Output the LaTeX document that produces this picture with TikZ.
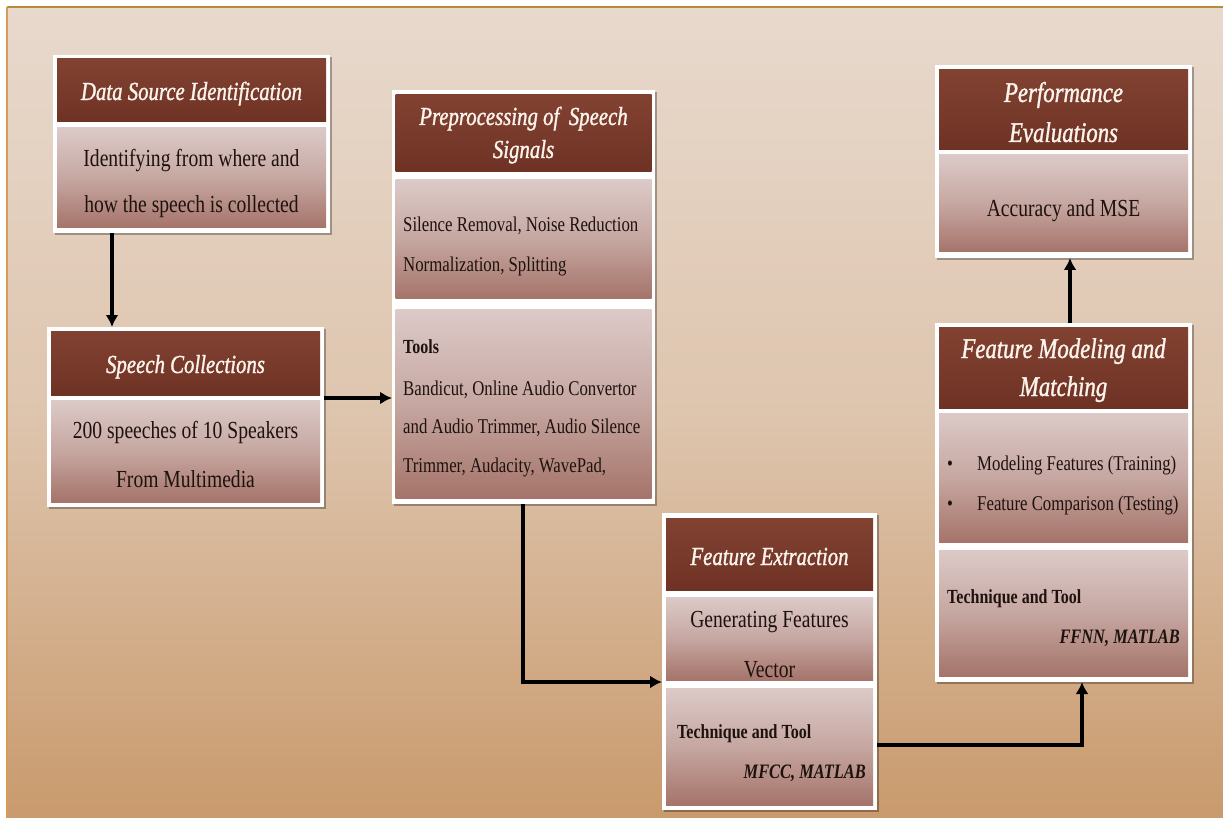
\documentclass[tikz,border=0pt]{standalone}
\usepackage{fontspec}
\setmainfont{Liberation Serif}[FakeStretch=0.8]
\newfontfamily\ttlfont{Liberation Serif}[FakeStretch=0.8, FakeBold=1.2]
\usetikzlibrary{shadows,arrows.meta}
\definecolor{bgtop}{HTML}{E8D9CD}
\definecolor{bgmid}{HTML}{DEC5AE}
\definecolor{bgbot}{HTML}{C99A6D}
\definecolor{edgegold}{HTML}{B98A3A}
\definecolor{edgeorange}{HTML}{D69C5A}
\definecolor{tbrownA}{HTML}{824232}
\definecolor{tbrownB}{HTML}{6E3224}
\definecolor{bodyT}{HTML}{DCCAC8}
\definecolor{bodyM}{HTML}{C6A7A1}
\definecolor{bodyB}{HTML}{A5746A}
\definecolor{bodytext}{HTML}{1E120E}
\definecolor{titletext}{HTML}{FBF4EC}
\tikzset{
  frm/.style={fill=white, draw=none, inner sep=0pt, outer sep=0pt, anchor=north west,
    drop shadow={shadow xshift=1.5pt, shadow yshift=-2pt, opacity=0.3, fill=black}},
  ttl/.style={top color=tbrownA, bottom color=tbrownB, draw=none, inner sep=0pt, outer sep=0pt, anchor=north west},
  bdy/.style={top color=bodyT, bottom color=bodyB, middle color=bodyM, draw=none, inner sep=0pt, outer sep=0pt, anchor=north west},
  ttxt/.style={text=titletext, font=\ttlfont\itshape\fontsize{26}{30}\selectfont, anchor=base, inner sep=0pt},
  bttxt/.style={text=titletext, font=\ttlfont\itshape\fontsize{28.5}{32}\selectfont, anchor=base, inner sep=0pt},
  btxt/.style={text=bodytext, font=\fontsize{24.5}{29}\selectfont, anchor=base, inner sep=0pt},
  stxt/.style={text=bodytext, font=\fontsize{21}{25}\selectfont, anchor=base west, inner sep=0pt},
  boldtxt/.style={text=bodytext, font=\bfseries\fontsize{20}{24}\selectfont, anchor=base west, inner sep=0pt},
  itxt/.style={text=bodytext, font=\bfseries\itshape\fontsize{20.5}{24}\selectfont, anchor=base east, inner sep=0pt},
  arr/.style={draw=black, line width=4.3pt, -{Latex[length=12pt,width=13pt]}}
}
\begin{document}
\begin{tikzpicture}[x=1pt,y=-1pt]
\useasboundingbox (0,0) rectangle (1223,818);
\fill[white] (0,0) rectangle (1223,818);
\fill[top color=bgtop, bottom color=bgbot, middle color=bgmid] (7,7) rectangle (1223,818);
\draw[edgegold, line width=1.5pt] (7,7) -- (1223,7);
\draw[edgeorange, line width=1.5pt] (7,7) -- (7,818);

% Box 1: Data Source Identification
\node[frm, minimum width=277pt, minimum height=178pt] (f1) at (53,55) {};
\node[ttl, minimum width=269pt, minimum height=63pt] (t1) at (57,59) {};
\node[bdy, minimum width=269pt, minimum height=100pt] (d1) at (57,128) {};
\node[ttxt] (t1a) at (191.5,100) {Data Source Identification};
\node[btxt] (d1a) at (191.5,167) {Identifying from where and};
\node[btxt] (d1b) at (191.5,213) {how the speech is collected};

% Box 2: Speech Collections
\node[frm, minimum width=277pt, minimum height=180pt] (f2) at (47,327) {};
\node[ttl, minimum width=269pt, minimum height=64pt] (t2) at (51,331) {};
\node[bdy, minimum width=269pt, minimum height=102pt] (d2) at (51,400) {};
\node[ttxt] (t2a) at (185.5,373) {Speech Collections};
\node[btxt] (d2a) at (185.5,438) {200 speeches of 10 Speakers};
\node[btxt] (d2b) at (185.5,487) {From Multimedia};

% Box 3: Preprocessing
\node[frm, minimum width=263pt, minimum height=414pt] (f3) at (392,90) {};
\node[ttl, minimum width=256pt, minimum height=77pt] (t3) at (395.5,95) {};
\node[bdy, minimum width=256pt, minimum height=118pt] (d3) at (395.5,180) {};
\node[bdy, minimum width=256pt, minimum height=189pt] (e3) at (395.5,309) {};
\node[ttxt] (t3a) at (523.5,125) {Preprocessing of\, Speech};
\node[ttxt] (t3b) at (523.5,158) {Signals};
\node[stxt] (d3a) at (403,232) {Silence Removal, Noise Reduction};
\node[stxt] (d3b) at (403,272) {Normalization, Splitting};
\node[boldtxt] (e3a) at (403,353) {Tools};
\node[stxt] (e3b) at (403,395) {Bandicut, Online Audio Convertor};
\node[stxt] (e3c) at (403,433) {and Audio Trimmer, Audio Silence};
\node[stxt] (e3d) at (403,472) {Trimmer, Audacity, WavePad,};

% Box 4: Feature Extraction
\node[frm, minimum width=215pt, minimum height=297pt] (f4) at (662,513) {};
\node[ttl, minimum width=207pt, minimum height=72pt] (t4) at (666,518) {};
\node[bdy, minimum width=207pt, minimum height=83pt] (d4) at (666,597) {};
\node[bdy, minimum width=207pt, minimum height=117pt] (e4) at (666,688) {};
\node[ttxt] (t4a) at (769.5,565) {Feature Extraction};
\node[btxt] (d4a) at (769.5,627) {Generating Features};
\node[btxt] (d4b) at (769.5,677) {Vector};
\node[boldtxt] (e4a) at (677,738) {Technique and Tool};
\node[itxt] (e4b) at (866,778) {MFCC, MATLAB};

% Box 5: Feature Modeling and Matching
\node[frm, minimum width=257pt, minimum height=359pt] (f5) at (935,323) {};
\node[ttl, minimum width=249pt, minimum height=81pt] (t5) at (939,327) {};
\node[bdy, minimum width=249pt, minimum height=129pt] (d5) at (939,413) {};
\node[bdy, minimum width=249pt, minimum height=126pt] (e5) at (939,550) {};
\node[bttxt] (t5a) at (1063.5,358) {Feature Modeling and};
\node[bttxt] (t5b) at (1063.5,396) {Matching};
\node[stxt] (d5p) at (947,470) {\textbullet};
\node[stxt] (d5a) at (977,470) {Modeling Features (Training)};
\node[stxt] (d5q) at (947,510) {\textbullet};
\node[stxt] (d5b) at (977,510) {Feature Comparison (Testing)};
\node[boldtxt] (e5a) at (947,603) {Technique and Tool};
\node[itxt] (e5b) at (1180,643) {FFNN, MATLAB};

% Box 6: Performance Evaluations
\node[frm, minimum width=257pt, minimum height=193pt] (f6) at (935,65) {};
\node[ttl, minimum width=249pt, minimum height=80pt] (t6) at (939,70) {};
\node[bdy, minimum width=249pt, minimum height=97pt] (d6) at (939,155) {};
\node[bttxt] (t6a) at (1063.5,102) {Performance};
\node[bttxt] (t6b) at (1063.5,142) {Evaluations};
\node[btxt] (d6a) at (1063.5,217) {Accuracy and MSE};

% connectors
\coordinate (x1) at (112,0);
\coordinate (y2) at (0,398);
\coordinate (c3) at (523,682);
\coordinate (c4) at (1082,745);
\coordinate (x5) at (1070,0);
\draw[arr] (f1.south -| x1) -- (f2.north -| x1);
\draw[arr] (f2.east |- y2) -- (f3.west |- y2);
\draw[arr] (f3.south -| c3) -- (c3) -- (f4.west |- c3);
\draw[arr] (f4.east |- c4) -- (c4) -- (f5.south -| c4);
\draw[arr] (f5.north -| x5) -- (f6.south -| x5);
\end{tikzpicture}
\end{document}
